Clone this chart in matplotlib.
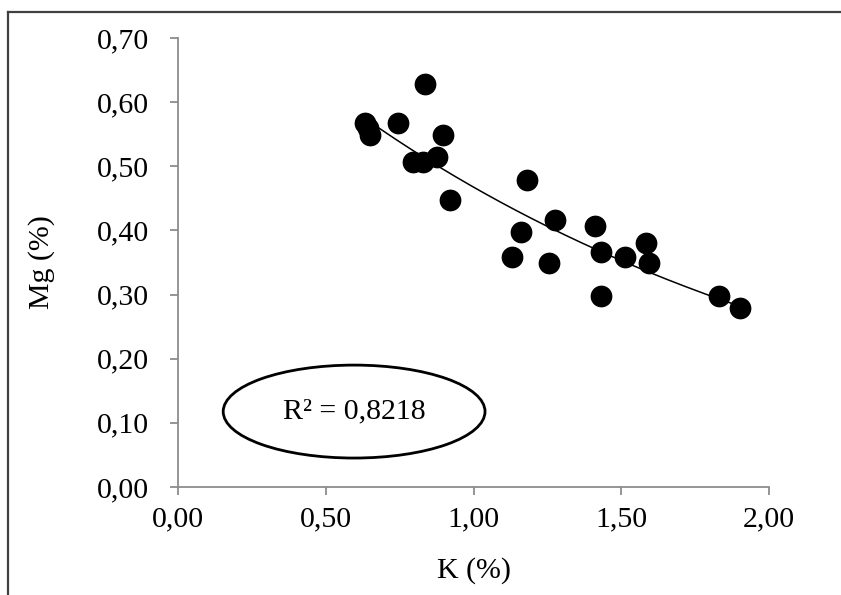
import numpy as np
import matplotlib
matplotlib.use('Agg')
from matplotlib import pyplot as plt
from matplotlib.patches import Ellipse
from matplotlib.lines import Line2D
from matplotlib.ticker import FuncFormatter

# K (%) vs Mg (%)
k_pct = [0.633, 0.643, 0.650, 0.745, 0.836, 0.896, 0.796, 0.830, 0.877, 0.920,
         1.180, 1.160, 1.129, 1.276, 1.256, 1.411, 1.430, 1.433, 1.513, 1.583,
         1.595, 1.832, 1.902]
mg_pct = [0.567, 0.560, 0.549, 0.567, 0.628, 0.548, 0.507, 0.507, 0.515, 0.447,
          0.479, 0.398, 0.358, 0.417, 0.349, 0.407, 0.367, 0.298, 0.358, 0.380,
          0.349, 0.298, 0.279]
r2_text = 'R² = 0,8218'
xticks = [0.0, 0.5, 1.0, 1.5, 2.0]
yticks = [0.0, 0.1, 0.2, 0.3, 0.4, 0.5, 0.6, 0.7]

plt.rcParams['font.family'] = ['Liberation Serif', 'DejaVu Serif']

fig = plt.figure(figsize=(8.41, 5.95), dpi=100)
ax = fig.add_axes([178/841, 108/595, 591/841, 449/595])

x = np.array(k_pct)
y = np.array(mg_pct)
ax.scatter(x, y, s=215, color='black', zorder=3)

# exponential trendline (excel style, log-linear fit)
b, ln_a = np.polyfit(x, np.log(y), 1)
xx = np.linspace(x.min(), x.max(), 200)
ax.plot(xx, np.exp(ln_a) * np.exp(b * xx), color='black', lw=1.1, zorder=2)

ax.set_xlim(0, 2.0)
ax.set_ylim(0, 0.7)
ax.set_xticks(xticks)
ax.set_yticks(yticks)
fmt = FuncFormatter(lambda v, p: ('%.2f' % v).replace('.', ','))
ax.xaxis.set_major_formatter(fmt)
ax.yaxis.set_major_formatter(fmt)

for s in ['top', 'right']:
    ax.spines[s].set_visible(False)
for s in ['left', 'bottom']:
    ax.spines[s].set_color('#8c8c8c')
    ax.spines[s].set_linewidth(1.3)
ax.tick_params(axis='both', colors='#8c8c8c', length=6, width=1.3,
               labelcolor='black', labelsize=21.5)
ax.tick_params(axis='y', pad=15)
ax.tick_params(axis='x', pad=8)

ax.set_xlabel('K (%)', fontsize=21.5, labelpad=18)
ax.set_ylabel('Mg (%)', fontsize=21.5, labelpad=30)

ell = Ellipse((0.298, 0.168), 0.443, 0.207, transform=ax.transAxes,
              fill=False, edgecolor='black', lw=2.0)
ax.add_patch(ell)
ax.text(0.298, 0.168, r2_text, transform=ax.transAxes, ha='center', va='center',
        fontsize=21.5)

# chart area border
fig.add_artist(Line2D([8/841, 8/841], [0, 1 - 12/595], transform=fig.transFigure,
                      color='#404040', lw=1.6))
fig.add_artist(Line2D([8/841, 1], [1 - 12/595, 1 - 12/595], transform=fig.transFigure,
                      color='#404040', lw=1.6))

fig.savefig('out.png', dpi=100)
